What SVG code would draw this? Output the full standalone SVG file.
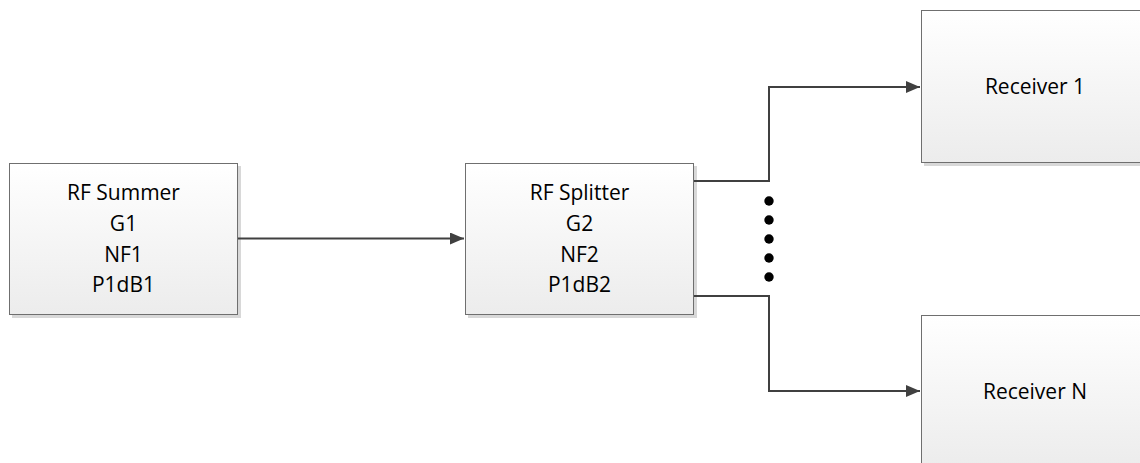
<svg xmlns="http://www.w3.org/2000/svg" width="1140" height="463" viewBox="0 0 1140 463">
<defs>
<linearGradient id="g" x1="0" y1="0" x2="0" y2="1">
<stop offset="0" stop-color="#ffffff"/>
<stop offset="1" stop-color="#ececec"/>
</linearGradient>
<marker id="arr" markerWidth="14" markerHeight="12" refX="14" refY="6" orient="auto" markerUnits="userSpaceOnUse">
<path d="M0,0 L14,6 L0,12 Z" fill="#404040"/>
</marker>
</defs>
<style>
.box{fill:url(#g);stroke:#6f6f6f;stroke-width:1}
.sh{fill:#d8d8d8}
.t{font-family:"Open Sans","Liberation Sans",sans-serif;font-size:21px;fill:#000;text-anchor:middle}
.c{fill:none;stroke:#404040;stroke-width:2}
</style>
<rect width="1140" height="463" fill="#fff"/>
<g id="summer">
<rect class="sh" x="12" y="166" width="229" height="152"/>
<rect class="box" x="9.5" y="163.5" width="228" height="151"/>
<text class="t" x="123.5" y="200">RF Summer</text>
<text class="t" x="123.5" y="231">G1</text>
<text class="t" x="123.5" y="262">NF1</text>
<text class="t" x="123.5" y="292">P1dB1</text>
</g>
<g id="splitter">
<rect class="sh" x="468" y="166" width="229" height="152"/>
<rect class="box" x="465.5" y="163.5" width="228" height="151"/>
<text class="t" x="579.5" y="200">RF Splitter</text>
<text class="t" x="579.5" y="231">G2</text>
<text class="t" x="579.5" y="262">NF2</text>
<text class="t" x="579.5" y="292">P1dB2</text>
</g>
<g id="receiver1">
<rect class="sh" x="924" y="13" width="230" height="153"/>
<rect class="box" x="921.5" y="10.5" width="230" height="152"/>
<text class="t" x="1035" y="94">Receiver 1</text>
</g>
<g id="receiverN">
<rect class="sh" x="924" y="318" width="230" height="153"/>
<rect class="box" x="921.5" y="315.5" width="230" height="152"/>
<text class="t" x="1035" y="399">Receiver N</text>
</g>
<g id="connectors">
<path class="c" d="M238,238.5 H464" marker-end="url(#arr)"/>
<path class="c" d="M694,181 H769 V87 H920" marker-end="url(#arr)"/>
<path class="c" d="M694,296 H769 V391 H920" marker-end="url(#arr)"/>
</g>
<g id="dots" fill="#000">
<circle cx="769" cy="201" r="4.7"/>
<circle cx="769" cy="220" r="4.7"/>
<circle cx="769" cy="239" r="4.7"/>
<circle cx="769" cy="258" r="4.7"/>
<circle cx="769" cy="277" r="4.7"/>
</g>
</svg>
